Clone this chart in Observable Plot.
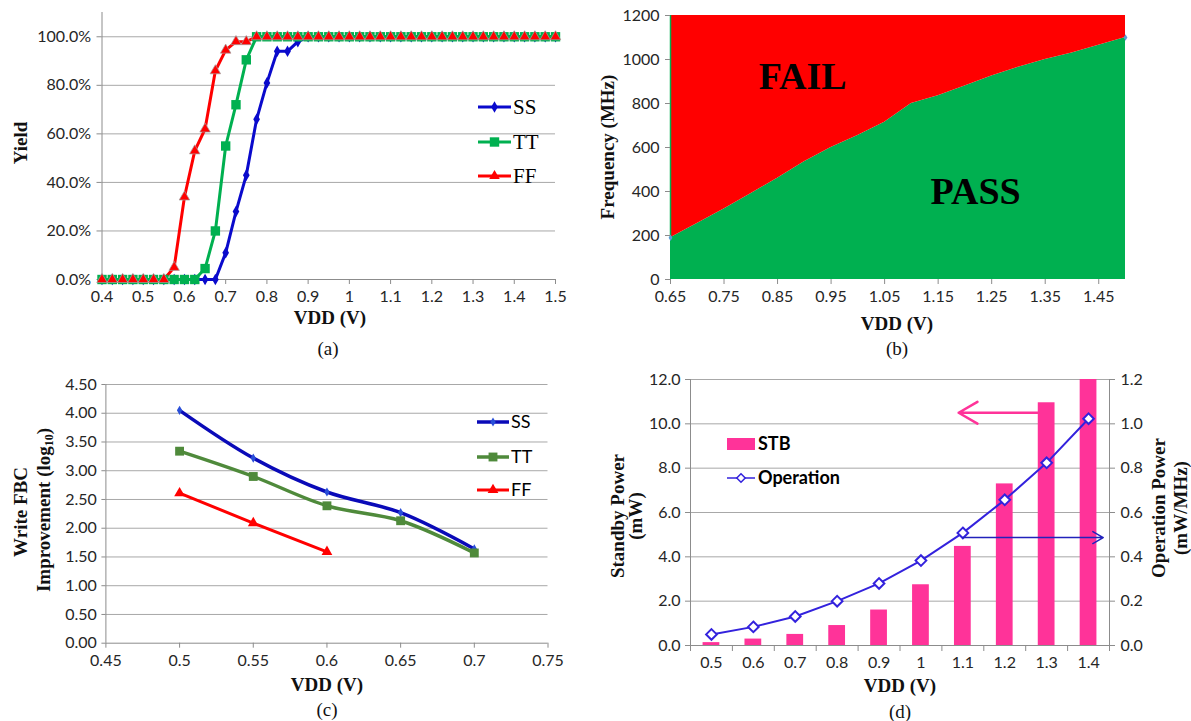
<!DOCTYPE html>
<html><head><meta charset="utf-8">
<script src="https://cdn.jsdelivr.net/npm/d3@7"></script>
<script src="https://cdn.jsdelivr.net/npm/@observablehq/plot@0.6"></script>
<style>
html,body{margin:0;padding:0;background:#fff}
body{width:1191px;height:721px;position:relative;overflow:hidden}
.p{position:absolute}
.t{position:absolute;font-family:"Liberation Serif",serif;font-weight:bold;font-size:19px;color:#111;white-space:nowrap;line-height:1}
.cap{font-weight:normal}
.c{transform:translate(-50%,-50%)}
.rot{transform:translate(-50%,-50%) rotate(-90deg)}
</style></head><body>
<script>
// ---------- (a) Yield vs VDD ----------
const vddA = [0.4,0.425,0.45,0.475,0.5,0.525,0.55,0.575,0.6,0.625,0.65,0.675,0.7,0.725,0.75,0.775,0.8,0.825,0.85,0.875,0.9,0.925,0.95,0.975,1,1.025,1.05,1.075,1.1,1.125,1.15,1.175,1.2,1.225,1.25,1.275,1.3,1.325,1.35,1.375,1.4,1.425,1.45,1.475,1.5];
const yieldSS = [0,0,0,0,0,0,0,0,0,0,0,0,11,28,43,66,81,94,94,98,100,100,100,100,100,100,100,100,100,100,100,100,100,100,100,100,100,100,100,100,100,100,100,100,100];
const yieldTT = [0,0,0,0,0,0,0,0,0,0,4.5,20,55,72,90.5,100,100,100,100,100,100,100,100,100,100,100,100,100,100,100,100,100,100,100,100,100,100,100,100,100,100,100,100,100,100];
const yieldFF = [0,0,0,0,0,0,0,5,34,53,62,86,94.5,98,98,100,100,100,100,100,100,100,100,100,100,100,100,100,100,100,100,100,100,100,100,100,100,100,100,100,100,100,100,100,100];
const xTicksA = [0.4,0.5,0.6,0.7,0.8,0.9,1,1.1,1.2,1.3,1.4,1.5];
const yTicksA = [0,20,40,60,80,100];
const yMaxA = 110;

// ---------- (b) Shmoo ----------
const vddB = [0.65,0.7,0.75,0.8,0.85,0.9,0.95,1,1.05,1.1,1.15,1.2,1.25,1.3,1.35,1.4,1.45,1.5];
const freqB = [190,255,320,390,460,535,600,655,715,800,835,880,925,965,1000,1030,1065,1100];
const freqMax = 1200;
const xTicksB = [0.65,0.75,0.85,0.95,1.05,1.15,1.25,1.35,1.45];
const yTicksB = [0,200,400,600,800,1000,1200];
const regionLabels = ["FAIL","PASS"];
const regionVdd = [0.897,1.22];
const regionFreq = [923,400];

// ---------- (c) Write FBC improvement ----------
const vddC = [0.5,0.55,0.6,0.65,0.7];
const fbcSS = [4.05,3.22,2.63,2.27,1.64];
const fbcTT = [3.34,2.90,2.39,2.13,1.57];
const vddCFF = [0.5,0.55,0.6];
const fbcFF = [2.61,2.09,1.59];
const xTicksC = [0.45,0.5,0.55,0.6,0.65,0.7,0.75];
const yTicksC = [0,0.5,1,1.5,2,2.5,3,3.5,4,4.5];

// ---------- (d) Power ----------
const vddD = [0.5,0.6,0.7,0.8,0.9,1,1.1,1.2,1.3,1.4];
const stbPower = [0.13,0.29,0.5,0.9,1.6,2.74,4.47,7.29,10.95,12.0];
const opPower = [0.05,0.084,0.131,0.2,0.28,0.383,0.508,0.657,0.824,1.023];
const bandEdgesD = [0.45,0.55,0.65,0.75,0.85,0.95,1.05,1.15,1.25,1.35,1.45];
const yTicksD = [0,2,4,6,8,10,12];
const yTicksDRight = [0,0.2,0.4,0.6,0.8,1.0,1.2];
const stbArrow = [{from:1.28, to:1.09, level:10.5}];
const opArrow = [{from:1.1, to:1.435, level:0.487}];

const axisColor = "#8c8c8c", gridColor = "#a8a8a8", textColor = "#262626";
const tickFont = {fontFamily:"Lato, 'Open Sans', sans-serif", fontSize:"16px", color:textColor, background:"transparent", overflow:"visible"};

function place(svg, left, top){
  const d = document.createElement("div");
  d.className = "p"; d.style.left = left+"px"; d.style.top = top+"px";
  d.appendChild(svg); document.body.appendChild(d);
}
function label(html, x, y, cls){
  const d = document.createElement("div");
  d.className = "t " + (cls||"c"); d.style.left = x+"px"; d.style.top = y+"px";
  d.innerHTML = html; document.body.appendChild(d);
}

// ===== (a) =====
const dataA = vddA.map((v,i)=>({v, ss:yieldSS[i], tt:yieldTT[i], ff:yieldFF[i]}));
place(Plot.plot({
  width:580, height:360, marginLeft:101.5, marginRight:25, marginTop:12, marginBottom:81,
  x:{domain:[vddA[0], vddA[vddA.length-1]]}, y:{domain:[0,yMaxA]},
  style:tickFont,
  marks:[
    Plot.gridY(yTicksA.filter(d=>d>0), {stroke:gridColor, strokeOpacity:1}),
    Plot.ruleX([vddA[0]], {stroke:axisColor}),
    Plot.ruleY([0], {stroke:axisColor}),
    Plot.axisY(yTicksA, {tickSize:5, tickPadding:6, tickFormat:d=>d.toFixed(1)+"%", label:null, stroke:axisColor, fill:textColor}),
    Plot.axisX(xTicksA, {tickSize:5, tickPadding:6, tickFormat:d=>String(d), label:null, stroke:axisColor, fill:textColor}),
    Plot.line(dataA, {x:"v", y:"ss", stroke:"#0a0acc", strokeWidth:3}),
    Plot.dot(dataA, {x:"v", y:"ss", symbol:"diamond", r:3.5, fill:"#0a0acc"}),
    Plot.line(dataA, {x:"v", y:"ff", stroke:"#ff0000", strokeWidth:3}),
    Plot.line(dataA, {x:"v", y:"tt", stroke:"#00b050", strokeWidth:3}),
    Plot.dot(dataA, {x:"v", y:"tt", symbol:"square", r:5.3, fill:"#00b050"}),
    Plot.dot(dataA, {x:"v", y:"ff", symbol:"triangle", r:3.9, fill:"#ff0000", stroke:"#a0a0a0", strokeWidth:0.7})
  ]
}), 0, 0);
label("Yield", 20, 143, "rot");
label("VDD (V)", 330, 317);
label("(a)", 328, 348, "c cap");

// ===== (b) =====
const dataB = vddB.map((v,i)=>({v, f:freqB[i]}));
const labB = regionLabels.map((t,i)=>({t, v:regionVdd[i], f:regionFreq[i]}));
place(Plot.plot({
  width:601, height:360, marginLeft:80, marginRight:66, marginTop:15, marginBottom:81,
  x:{domain:[vddB[0], vddB[vddB.length-1]]}, y:{domain:[0,freqMax]},
  style:tickFont,
  marks:[
    Plot.areaY(dataB, {x:"v", y1:0, y2:"f", fill:"#00b050"}),
    Plot.areaY(dataB, {x:"v", y1:"f", y2:freqMax, fill:"#ff0000"}),
    Plot.ruleX([vddB[0]], {y1:freqB[0], y2:freqMax, stroke:"#00b050", strokeWidth:1.5}),
    Plot.dot([dataB[0], dataB[dataB.length-1]], {x:"v", y:"f", symbol:"diamond", r:2, fill:"#5b9bd5"}),
    Plot.axisY(yTicksB, {tickSize:5, tickPadding:6, tickFormat:d=>String(d), label:null, stroke:axisColor, fill:textColor}),
    Plot.axisX(xTicksB, {tickSize:5, tickPadding:6, tickFormat:d=>d.toFixed(2), label:null, stroke:axisColor, fill:textColor}),
    Plot.text(labB, {x:"v", y:"f", text:"t", fontFamily:"Liberation Serif", fontWeight:"bold", fontSize:38, fill:"#000"})
  ]
}), 590, 0);
label("Frequency (MHz)", 607, 147, "rot");
label("VDD (V)", 897, 323);
label("(b)", 897, 348, "c cap");

// ===== (c) =====
const dataC = vddC.map((v,i)=>({v, ss:fbcSS[i], tt:fbcTT[i]}));
const dataCFF = vddCFF.map((v,i)=>({v, ff:fbcFF[i]}));
place(Plot.plot({
  width:580, height:361, marginLeft:105.4, marginRight:32.5, marginTop:24, marginBottom:78.3,
  x:{domain:[xTicksC[0], xTicksC[xTicksC.length-1]]}, y:{domain:[0,4.5]},
  style:tickFont,
  marks:[
    Plot.gridY(yTicksC.filter(d=>d>0), {stroke:gridColor, strokeOpacity:1}),
    Plot.ruleX([xTicksC[0]], {stroke:axisColor}),
    Plot.ruleY([0], {stroke:axisColor}),
    Plot.axisY(yTicksC, {tickSize:4, tickPadding:5, tickFormat:d=>d.toFixed(2), label:null, stroke:axisColor, fill:textColor}),
    Plot.axisX(xTicksC, {tickSize:5, tickPadding:6, tickFormat:d=>String(d), label:null, stroke:axisColor, fill:textColor}),
    Plot.line(dataC, {x:"v", y:"ss", stroke:"#0a0ab8", strokeWidth:3.5, curve:"catmull-rom"}),
    Plot.dot(dataC, {x:"v", y:"ss", symbol:"diamond", r:2.8, fill:"#2a4fd8"}),
    Plot.line(dataC, {x:"v", y:"tt", stroke:"#4f8a3b", strokeWidth:3.5, curve:"catmull-rom"}),
    Plot.dot(dataC, {x:"v", y:"tt", symbol:"square", r:5, fill:"#4f8a3b"}),
    Plot.line(dataCFF, {x:"v", y:"ff", stroke:"#ff0000", strokeWidth:3}),
    Plot.dot(dataCFF, {x:"v", y:"ff", symbol:"triangle", r:4, fill:"#ff0000"})
  ]
}), 0, 360);
label("Write FBC", 20, 512, "rot");
label("Improvement (log<sub style='font-size:12px;vertical-align:-3px'>10</sub>)", 44, 510, "rot");
label("VDD (V)", 327, 684);
label("(c)", 327, 709, "c cap");

// ===== (d) =====
const dataD = vddD.map((v,i)=>({v, stb:stbPower[i], op:opPower[i]}));
const halfBar = 0.02;
place(Plot.plot({
  width:601, height:361, marginLeft:100, marginRight:82, marginTop:19, marginBottom:76,
  x:{domain:[bandEdgesD[0], bandEdgesD[bandEdgesD.length-1]]}, y:{domain:[0,12]},
  style:tickFont,
  marks:[
    Plot.gridY(yTicksD.filter(d=>d>0), {stroke:gridColor, strokeOpacity:1}),
    Plot.ruleX([bandEdgesD[0], bandEdgesD[bandEdgesD.length-1]], {stroke:axisColor}),
    Plot.ruleY([0], {stroke:axisColor}),
    Plot.axisY(yTicksD, {tickSize:5, tickPadding:5, tickFormat:d=>d.toFixed(1), label:null, stroke:axisColor, fill:textColor}),
    Plot.axisY(yTicksDRight.map(d=>d*10), {anchor:"right", tickSize:5, tickPadding:6, tickFormat:d=>(d/10).toFixed(1), label:null, stroke:axisColor, fill:textColor}),
    Plot.axisX(bandEdgesD, {tickSize:6, tickFormat:()=>"", label:null, stroke:axisColor}),
    Plot.axisX(vddD, {tickSize:0, tickPadding:11, tickFormat:d=>String(d), label:null, fill:textColor}),
    Plot.rectY(dataD, {x1:d=>d.v-halfBar, x2:d=>d.v+halfBar, y1:0, y2:"stb", fill:"#ff3399"}),
    Plot.arrow(stbArrow, {x1:"from", x2:"to", y1:"level", y2:"level", stroke:"#ff3399", strokeWidth:2.5, headLength:13}),
    Plot.line(dataD, {x:"v", y:d=>d.op*10, stroke:"#3322dd", strokeWidth:2}),
    Plot.dot(dataD, {x:"v", y:d=>d.op*10, symbol:"diamond2", r:4.8, fill:"#fff", stroke:"#3322dd", strokeWidth:2}),
    Plot.arrow(opArrow, {x1:"from", x2:"to", y1:d=>d.level*10, y2:d=>d.level*10, stroke:"#2222bb", strokeWidth:1.5, headLength:12})
  ]
}), 590, 360);
label("Standby Power", 617, 516, "rot");
label("(mW)", 635, 516, "rot");
label("Operation Power", 1158, 508, "rot");
label("(mW/MHz)", 1180, 508, "rot");
label("VDD (V)", 900, 685);
label("(d)", 900, 711, "c cap");

// ===== legends =====
const ov = d3.select("body").append("svg").attr("class","p").style("left","0px").style("top","0px")
  .attr("width",1191).attr("height",721).style("overflow","visible").style("pointer-events","none");
function lineEntry(x, y, len, color, sw, sym, r, fill, stroke, text, font, size, weight, tx){
  ov.append("line").attr("x1",x).attr("x2",x+len).attr("y1",y).attr("y2",y).attr("stroke",color).attr("stroke-width",sw);
  ov.append("path").attr("d", d3.symbol(sym, Math.PI*r*r)()).attr("transform",`translate(${x+len/2},${y})`)
    .attr("fill",fill).attr("stroke",stroke||"none").attr("stroke-width",stroke?1.5:0);
  ov.append("text").attr("x",tx).attr("y",y).attr("dy","0.35em").attr("font-family",font).attr("font-size",size)
    .attr("font-weight",weight).attr("fill","#000").text(text);
}
const serif = "Liberation Serif", sans = "Lato, sans-serif";
lineEntry(478,107,33,"#0a0acc",3,d3.symbolDiamond,3.5,"#0a0acc",null,"SS",serif,21,"normal",513);
lineEntry(478,142,33,"#00b050",3,d3.symbolSquare,5.3,"#00b050",null,"TT",serif,21,"normal",513);
lineEntry(478,176,33,"#ff0000",3,d3.symbolTriangle,3.9,"#ff0000",null,"FF",serif,21,"normal",513);
lineEntry(477,422,32,"#0a0ab8",3.5,d3.symbolDiamond,2.8,"#2a4fd8",null,"SS",sans,18,"normal",511);
lineEntry(477,457,32,"#4f8a3b",3.5,d3.symbolSquare,5,"#4f8a3b",null,"TT",sans,18,"normal",511);
lineEntry(477,490,32,"#ff0000",3,d3.symbolTriangle,4,"#ff0000",null,"FF",sans,18,"normal",511);
ov.append("rect").attr("x",727).attr("y",438).attr("width",28).attr("height",12).attr("fill","#ff3399");
ov.append("text").attr("x",758).attr("y",444).attr("dy","0.35em").attr("font-family",sans).attr("font-size",18).attr("font-weight","bold").text("STB");
lineEntry(727,478,28,"#3322dd",1.5,d3.symbolDiamond2 || d3.symbolSquare,3.8,"#fff","#3322dd","Operation",sans,18,"bold",758);
</script>
</body></html>
